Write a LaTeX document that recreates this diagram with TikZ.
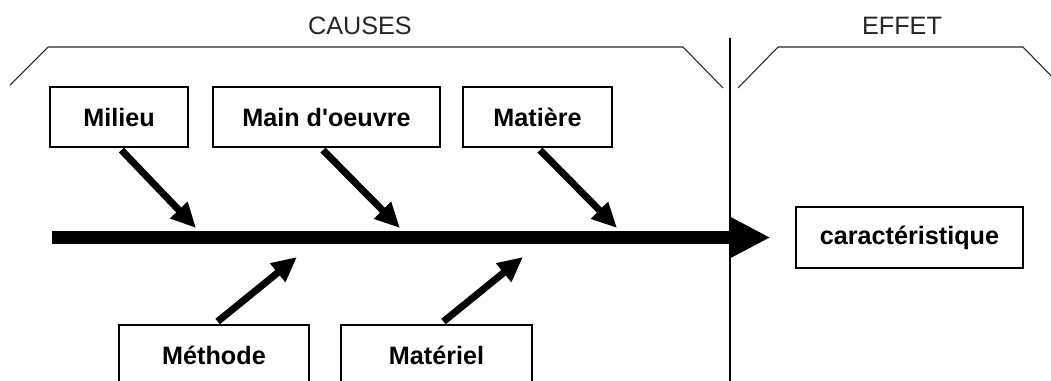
\documentclass[tikz,border=0pt]{standalone}
\usepackage{fontspec}
\setmainfont{Liberation Sans}[Ligatures=TeXOff]
\usetikzlibrary{arrows.meta}
\tikzset{
  cause/.style={draw, line width=0.9pt, minimum height=1.8cm, inner sep=0pt,
    font=\bfseries\fontsize{21.5}{26}\selectfont},
  title/.style={font=\fontsize{21.5}{26}\selectfont, text=black!85, inner sep=0pt},
  bracket/.style={line width=0.9pt, black!85},
  bone/.style={line width=6pt, -{Triangle[length=0.75cm,width=0.68cm]}},
  spine/.style={line width=11pt, -{Triangle[length=1.23cm,width=1.17cm]}}
}
\begin{document}
\begin{tikzpicture}[x=0.03cm,y=-0.03cm]
  \useasboundingbox (0,0) rectangle (1051,380);
  \clip (0,0) rectangle (1051,380);
  % brackets and titles
  \draw[bracket] (10,85) -- (48,47) -- (683,47) -- (723,88);
  \draw[bracket] (738,88) -- (778,47) -- (1023,47) -- (1060,85);
  \node[title] (causes) at (360,26) {CAUSES};
  \node[title] (effet) at (902,26) {EFFET};
  \coordinate (sepT) at (730,38);
  \coordinate (sepB) at (730,390);
  \draw[line width=0.9pt] (sepT) -- (sepB);
  % causes
  \node[cause, minimum width=4.14cm] (milieu) at (119,117) {Milieu};
  \node[cause, minimum width=6.81cm] (main) at (326.5,117) {Main d'oeuvre};
  \node[cause, minimum width=4.47cm] (matiere) at (537.5,117) {Matière};
  \node[cause, minimum width=5.7cm] (methode) at (214,355) {Méthode};
  \node[cause, minimum width=5.73cm] (materiel) at (436.5,355) {Matériel};
  % effect
  \node[cause, minimum width=6.81cm, minimum height=1.83cm] (effect) at (909.5,237.5) {caractéristique};
  % spine
  \coordinate (tail) at (52,237.5);
  \draw[spine, shorten >=0.75cm] (tail) -- (effect.west);
  % bones
  \coordinate (m1) at (196,228);
  \coordinate (m2) at (400,228);
  \coordinate (m3) at (617,228);
  \coordinate (m4) at (297,257);
  \coordinate (m5) at (523,257);
  \draw[bone, shorten <=3pt] (milieu.south) -- (m1);
  \draw[bone, shorten <=3pt] ([xshift=-0.18cm]main.south) -- (m2);
  \draw[bone, shorten <=3pt] (matiere.south) -- (m3);
  \draw[bone, shorten <=4pt] (methode.north) -- (m4);
  \draw[bone, shorten <=4pt] ([xshift=0.1cm]materiel.north) -- (m5);
\end{tikzpicture}
\end{document}
